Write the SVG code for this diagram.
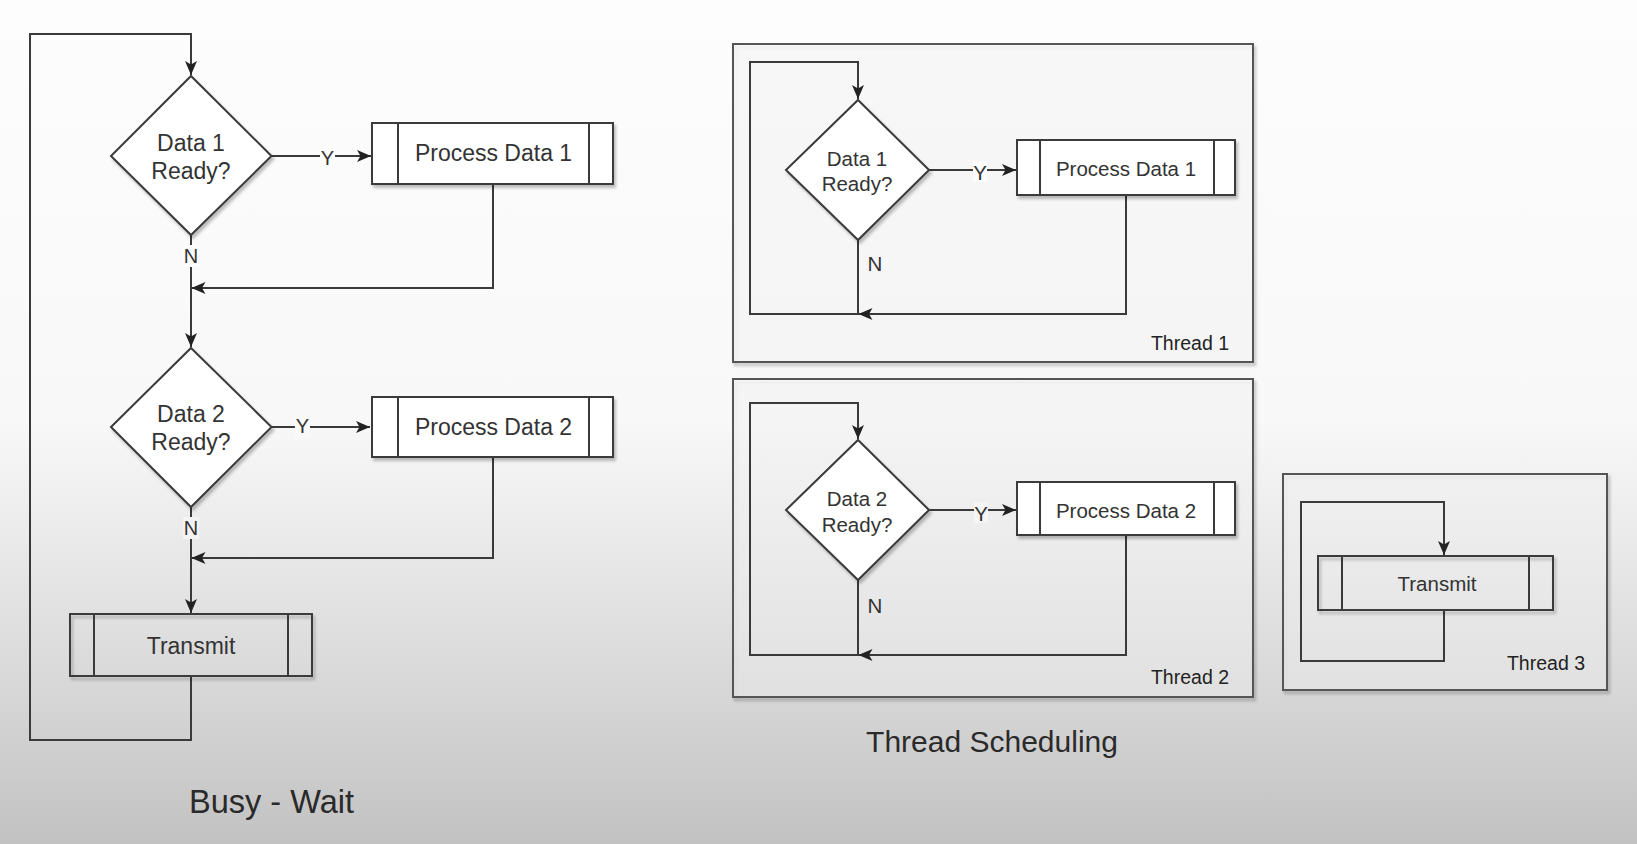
<svg xmlns="http://www.w3.org/2000/svg" width="1637" height="844" viewBox="0 0 1637 844">
<defs>
<linearGradient id="bg" x1="0" y1="0" x2="0" y2="1">
<stop offset="0" stop-color="#fdfdfd"/>
<stop offset="0.5" stop-color="#f8f8f8"/>
<stop offset="0.62" stop-color="#ececec"/>
<stop offset="0.8" stop-color="#d9d9d9"/>
<stop offset="1" stop-color="#c2c2c2"/>
</linearGradient>
<filter id="sh" x="-10%" y="-10%" width="130%" height="130%">
<feDropShadow dx="2" dy="3" stdDeviation="1.5" flood-color="#000" flood-opacity="0.25"/>
</filter>
<marker id="arr" viewBox="0 0 14 12" refX="14" refY="6" markerWidth="14" markerHeight="12" markerUnits="userSpaceOnUse" orient="auto">
<path d="M0,0 L14,6 L0,12 L3.5,6 Z" fill="#222"/>
</marker>
<style>
.ln{fill:none;stroke:#3a3a3a;stroke-width:2;}
.box{fill:#ffffff;stroke:#3a3a3a;stroke-width:2;filter:url(#sh);}
.tbox{fill:none;stroke:#3a3a3a;stroke-width:2;filter:url(#sh);}
.cont{fill:#ffffff;fill-opacity:0.35;stroke:#555;stroke-width:2;filter:url(#sh);}
.t{font-family:"Liberation Sans",Arial,sans-serif;fill:#333;text-anchor:middle;dominant-baseline:central;}
.big{font-size:23px;}
.sm{font-size:20.5px;}
.lab{font-size:20px;}
.tl{font-family:"Liberation Sans",Arial,sans-serif;fill:#222;font-size:19.5px;text-anchor:end;}
.title{font-family:"Liberation Sans",Arial,sans-serif;fill:#2a2a2a;text-anchor:middle;}
</style>
</defs>
<rect x="0" y="0" width="1637" height="844" fill="url(#bg)"/>

<g id="thread1">
<rect class="cont" x="733" y="44" width="520" height="318"/>
<text class="tl" x="1229" y="350">Thread 1</text>
</g>
<g id="thread2">
<rect class="cont" x="733" y="379" width="520" height="318"/>
<text class="tl" x="1229" y="684">Thread 2</text>
</g>
<g id="thread3">
<rect class="cont" x="1283" y="474" width="324" height="216"/>
<text class="tl" x="1585" y="670">Thread 3</text>
</g>

<g id="connectors">
<!-- Busy-Wait -->
<path class="ln" d="M271.5,156 H371" marker-end="url(#arr)"/>
<path class="ln" d="M493,184 V288 H191.5" marker-end="url(#arr)"/>
<path class="ln" d="M191,235 V347" marker-end="url(#arr)"/>
<path class="ln" d="M271.5,427 H370" marker-end="url(#arr)"/>
<path class="ln" d="M493,457 V558 H191.5" marker-end="url(#arr)"/>
<path class="ln" d="M191,507 V613" marker-end="url(#arr)"/>
<path class="ln" d="M191,676 V740 H30 V34 H191 V75" marker-end="url(#arr)"/>
<!-- Thread 1 -->
<path class="ln" d="M929,170 H1016" marker-end="url(#arr)"/>
<path class="ln" d="M1126,195 V314 H858.5" marker-end="url(#arr)"/>
<path class="ln" d="M858,240 V314 H750 V62 H858 V99" marker-end="url(#arr)"/>
<!-- Thread 2 -->
<path class="ln" d="M929,510 H1016" marker-end="url(#arr)"/>
<path class="ln" d="M1126,535 V655 H858.5" marker-end="url(#arr)"/>
<path class="ln" d="M858,580 V655 H750 V403 H858 V439" marker-end="url(#arr)"/>
<!-- Thread 3 -->
<path class="ln" d="M1444,610 V661 H1301 V502 H1444 V555" marker-end="url(#arr)"/>
<!-- edge labels -->
<rect x="320" y="146" width="15" height="22" fill="#fdfdfd"/>
<text class="t lab" x="327.5" y="158">Y</text>
<rect x="295" y="416" width="15" height="22" fill="#fafafa"/>
<text class="t lab" x="302.5" y="426">Y</text>
<rect x="183" y="245" width="16" height="22" fill="#fdfdfd"/>
<text class="t lab" x="191" y="256">N</text>
<rect x="183" y="517" width="16" height="22" fill="#f4f4f4"/>
<text class="t lab" x="191" y="528">N</text>
<rect x="973" y="161" width="14" height="21" fill="#fcfcfc"/>
<text class="t sm" x="980" y="172">Y</text>
<rect x="974" y="502" width="14" height="21" fill="#f5f5f5"/>
<text class="t sm" x="981" y="513">Y</text>
<text class="t sm" x="875" y="263">N</text>
<text class="t sm" x="875" y="605">N</text>
</g>

<g id="busy-wait">
<g id="bw-decision1">
<polygon class="box" points="191,76 271.5,156 191,235 111,156"/>
<text class="t big" x="191" y="143">Data 1</text>
<text class="t big" x="191" y="171">Ready?</text>
</g>
<g id="bw-process1">
<rect class="box" x="372" y="123" width="241" height="61"/>
<line class="ln" x1="398" y1="123" x2="398" y2="184"/>
<line class="ln" x1="589" y1="123" x2="589" y2="184"/>
<text class="t big" x="493.5" y="153">Process Data 1</text>
</g>
<g id="bw-decision2">
<polygon class="box" points="191,348 271.5,427 191,507 111,427"/>
<text class="t big" x="191" y="414">Data 2</text>
<text class="t big" x="191" y="442">Ready?</text>
</g>
<g id="bw-process2">
<rect class="box" x="372" y="397" width="241" height="60"/>
<line class="ln" x1="398" y1="397" x2="398" y2="457"/>
<line class="ln" x1="589" y1="397" x2="589" y2="457"/>
<text class="t big" x="493.5" y="427">Process Data 2</text>
</g>
<g id="bw-transmit">
<rect class="tbox" x="70" y="614" width="242" height="62"/>
<line class="ln" x1="94" y1="614" x2="94" y2="676"/>
<line class="ln" x1="288" y1="614" x2="288" y2="676"/>
<text class="t big" x="191" y="646">Transmit</text>
</g>
<text class="title" x="271.5" y="813" font-size="32.5">Busy - Wait</text>
</g>

<g id="t1-decision">
<polygon class="box" points="858,100 929,170 858,240 786,170"/>
<text class="t sm" x="857" y="158">Data 1</text>
<text class="t sm" x="857" y="183">Ready?</text>
</g>
<g id="t1-process">
<rect class="box" x="1017" y="140" width="218" height="55"/>
<line class="ln" x1="1040" y1="140" x2="1040" y2="195"/>
<line class="ln" x1="1214" y1="140" x2="1214" y2="195"/>
<text class="t sm" x="1126" y="168">Process Data 1</text>
</g>

<g id="t2-decision">
<polygon class="box" points="858,440 929,510 858,580 786,510"/>
<text class="t sm" x="857" y="498">Data 2</text>
<text class="t sm" x="857" y="524">Ready?</text>
</g>
<g id="t2-process">
<rect class="box" x="1017" y="482" width="218" height="53"/>
<line class="ln" x1="1040" y1="482" x2="1040" y2="535"/>
<line class="ln" x1="1214" y1="482" x2="1214" y2="535"/>
<text class="t sm" x="1126" y="510">Process Data 2</text>
</g>

<g id="t3-transmit">
<rect class="tbox" x="1318" y="556" width="235" height="54"/>
<line class="ln" x1="1342" y1="556" x2="1342" y2="610"/>
<line class="ln" x1="1529" y1="556" x2="1529" y2="610"/>
<text class="t sm" x="1437" y="583">Transmit</text>
</g>

<text class="title" x="992" y="752" font-size="30">Thread Scheduling</text>
</svg>
